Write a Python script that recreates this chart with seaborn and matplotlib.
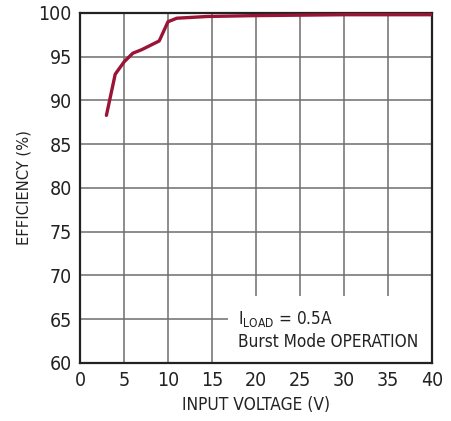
import pandas as pd
import matplotlib.pyplot as plt
import seaborn as sns
from matplotlib import font_manager

# data
input_voltage = [3, 4, 5, 6, 7, 8, 9, 10, 11, 14.5, 20, 25, 30, 35, 40]
efficiency = [88.3, 93.0, 94.4, 95.4, 95.8, 96.3, 96.8, 99.0, 99.4, 99.6, 99.7, 99.75, 99.8, 99.8, 99.8]

x_ticks = [0, 5, 10, 15, 20, 25, 30, 35, 40]
y_ticks = [60, 65, 70, 75, 80, 85, 90, 95, 100]

sns.set_style("white")

# pick a narrow face if one is installed, else Liberation Sans
fonts = font_manager.fontManager.ttflist
names = {f.name for f in fonts}
stretch = "normal"
if "Liberation Sans Narrow" in names:
    family = ["Liberation Sans Narrow", "DejaVu Sans"]
elif any(f.name == "DejaVu Sans" and f.stretch == "condensed" for f in fonts):
    family = ["DejaVu Sans"]
    stretch = "condensed"
else:
    family = ["Liberation Sans", "DejaVu Sans"]
plt.rcParams["font.family"] = family
plt.rcParams["font.stretch"] = stretch
plt.rcParams["mathtext.fontset"] = "custom"
plt.rcParams["mathtext.rm"] = family[0]

df = pd.DataFrame({"vin": input_voltage, "eff": efficiency})

fig = plt.figure(figsize=(4.51, 4.21), dpi=100)
ax = fig.add_axes([0.1774, 0.1378, 0.7805, 0.8314])

sns.lineplot(data=df, x="vin", y="eff", color="#9a1436", linewidth=2.4, ax=ax, zorder=3)

ax.set_xlim(0, 40)
ax.set_ylim(60, 100)
ax.set_xticks(x_ticks)
ax.set_yticks(y_ticks)
ax.grid(True, color="#6e6e6e", linewidth=1.1)
ax.set_axisbelow(True)
ax.tick_params(direction="in", length=4, width=1, color="#333333",
               labelsize=14, colors="#222222", pad=6)
ax.tick_params(top=False, right=False)
for s in ax.spines.values():
    s.set_color("#222222")
    s.set_linewidth(1.6)

ax.set_xlabel("INPUT VOLTAGE (V)", fontsize=12.4, color="#222222", labelpad=4)
ax.set_ylabel("EFFICIENCY (%)", fontsize=11.8, color="#222222", labelpad=5)

# white note box in lower-right corner covers the grid
ax.add_patch(plt.Rectangle((16.8, 60), 23.2, 7.6, facecolor="white",
                           edgecolor="none", zorder=2))
ax.text(17.9, 65.0, r"I$_{\mathregular{LOAD}}$ = 0.5A", fontsize=12.3,
        color="#222222", va="center", zorder=4)
ax.text(17.9, 62.4, "Burst Mode OPERATION", fontsize=12.3,
        color="#222222", va="center", zorder=4)

fig.savefig("out.png", dpi=100)
